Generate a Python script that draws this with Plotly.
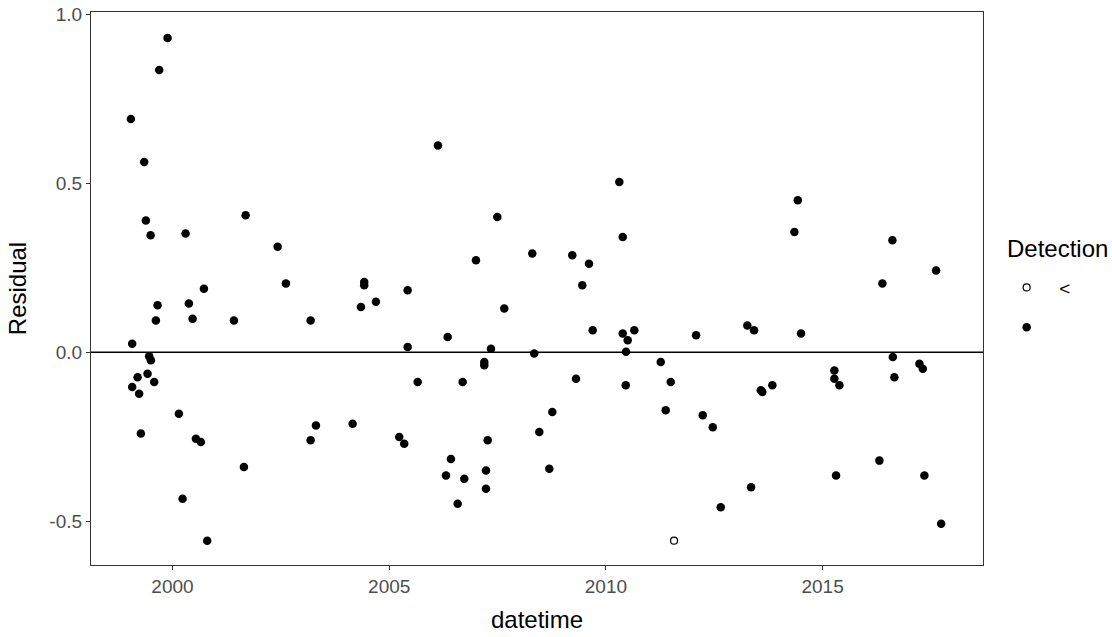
import plotly.graph_objects as go

# Detected values (filled dots): decimal year and residual
det_year = [1999.887, 1999.693, 1999.040, 1999.347, 1999.386, 1999.495, 2000.302, 2001.687,
            2000.725, 1999.656, 2000.378, 1999.617, 2000.464, 2001.417, 1999.070, 1999.462,
            1999.501, 1999.195, 1999.425, 1999.578, 1999.070, 1999.231, 2000.148, 1999.271,
            2000.540, 2000.655, 2001.648, 2000.233, 2000.801, 2002.426, 2002.617, 2003.187,
            2004.424, 2004.424, 2004.348, 2004.694, 2005.426, 2005.426, 2005.657, 2006.349,
            2007.002, 2007.494, 2007.655, 2007.348, 2007.194, 2007.194, 2006.695, 2003.310,
            2003.187, 2004.156, 2005.232, 2005.347, 2006.425, 2006.310, 2006.732, 2007.272,
            2007.233, 2007.233, 2006.580, 2006.125, 2008.301, 2009.224, 2009.610, 2009.455,
            2010.309, 2010.388, 2009.695, 2010.388, 2010.503, 2010.655, 2010.464, 2008.347,
            2009.310, 2010.457, 2011.265, 2011.496, 2012.080, 2013.263, 2013.418, 2008.763,
            2008.463, 2008.694, 2011.379, 2012.234, 2012.465, 2013.349, 2012.649, 2014.427,
            2014.348, 2016.610, 2017.618, 2016.379, 2014.502, 2016.619, 2017.233, 2017.311,
            2016.656, 2015.271, 2015.271, 2015.387, 2013.573, 2013.609, 2013.840, 2016.310,
            2015.310, 2017.348, 2017.734]
det_resid = [0.930, 0.835, 0.690, 0.563, 0.390, 0.346, 0.351, 0.405,
             0.188, 0.139, 0.144, 0.094, 0.099, 0.094, 0.025, -0.012,
             -0.024, -0.074, -0.064, -0.088, -0.103, -0.123, -0.182, -0.241,
             -0.256, -0.266, -0.340, -0.434, -0.558, 0.312, 0.203, 0.094,
             0.208, 0.198, 0.134, 0.149, 0.183, 0.015, -0.088, 0.045,
             0.272, 0.400, 0.129, 0.010, -0.029, -0.039, -0.088, -0.217,
             -0.261, -0.212, -0.251, -0.271, -0.316, -0.365, -0.375, -0.261,
             -0.350, -0.404, -0.449, 0.612, 0.292, 0.287, 0.262, 0.198,
             0.504, 0.341, 0.065, 0.055, 0.035, 0.065, 0.001, -0.004,
             -0.079, -0.098, -0.029, -0.088, 0.050, 0.079, 0.065, -0.177,
             -0.236, -0.345, -0.172, -0.187, -0.222, -0.400, -0.459, 0.450,
             0.356, 0.331, 0.242, 0.203, 0.055, -0.014, -0.034, -0.049,
             -0.074, -0.054, -0.079, -0.098, -0.113, -0.118, -0.098, -0.321,
             -0.365, -0.365, -0.508]

# Censored values ("<", open circle)
cen_year = [2011.572]
cen_resid = [-0.558]

x_ticks = [2000, 2005, 2010, 2015]
y_ticks = [-0.5, 0.0, 0.5, 1.0]
y_tick_labels = ["-0.5", "0.0", "0.5", "1.0"]

FONT = "Liberation Sans, Arial"

fig = go.Figure()
fig.add_trace(go.Scatter(
    x=cen_year, y=cen_resid, mode="markers", name="<", legendgroup="a",
    marker=dict(symbol="circle-open", size=7, color="black", line=dict(width=1.2)),
))
fig.add_trace(go.Scatter(
    x=det_year, y=det_resid, mode="markers", name=" ", legendgroup="b",
    marker=dict(symbol="circle", size=8.5, color="black"),
))

fig.add_shape(type="line", xref="paper", yref="y", x0=0, x1=1, y0=0, y1=0,
              line=dict(color="black", width=1.5))

fig.add_annotation(text="Detection", xref="paper", yref="paper", x=1.0247, y=0.573,
                   xanchor="left", yanchor="middle", showarrow=False,
                   font=dict(family=FONT, size=24, color="black"))

axis_common = dict(showline=True, linecolor="#333333", linewidth=1.2, mirror=True,
                   ticks="outside", ticklen=4, tickcolor="#333333", tickwidth=1.1,
                   showgrid=False, zeroline=False, automargin=False,
                   ticklabeloverflow="allow",
                   tickfont=dict(family=FONT, size=19, color="#4d4d4d"))

fig.update_layout(
    width=1112, height=637,
    margin=dict(l=91, r=129, t=12, b=72),
    plot_bgcolor="white", paper_bgcolor="white",
    font=dict(family=FONT, color="black"),
    xaxis=dict(range=[1998.12, 2018.70], tickvals=x_ticks, ticktext=[str(v) for v in x_ticks],
               title=dict(text="datetime", font=dict(size=24, color="black"), standoff=15),
               **axis_common),
    yaxis=dict(range=[-0.630, 1.007], tickvals=y_ticks, ticktext=y_tick_labels,
               title=dict(text="Residual", font=dict(size=24, color="black"), standoff=15),
               **axis_common),
    showlegend=True,
    legend=dict(x=1.0125, xanchor="left", y=0.536, yanchor="top",
                font=dict(size=19, color="black"), tracegroupgap=12,
                bgcolor="rgba(0,0,0,0)", itemwidth=55),
)

fig.write_html("out.html", config={"displayModeBar": False},
               post_script="document.body.style.margin='0';document.body.style.overflow='hidden';")
